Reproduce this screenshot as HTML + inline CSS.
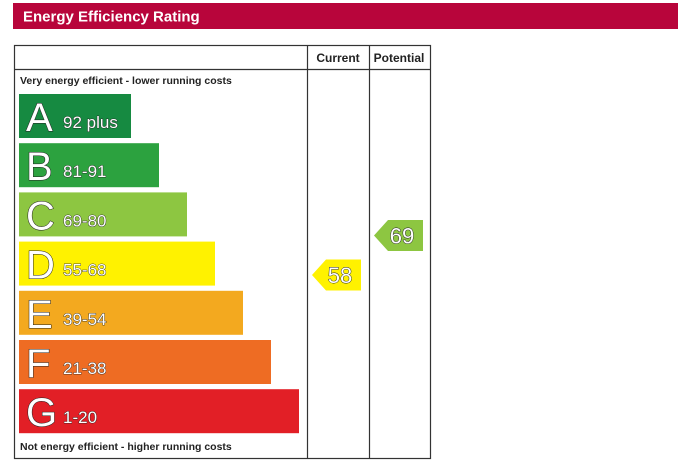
<!DOCTYPE html>
<html><head><meta charset="utf-8"><style>
body{margin:0;width:700px;height:470px;background:#fff;overflow:hidden;font-family:"Liberation Sans",sans-serif}
svg{display:block}
</style></head><body>
<svg width="700" height="470">
<rect x="13" y="3" width="665" height="26" fill="#b8053b"/>
<text x="23" y="21.5" font-size="15" font-weight="bold" fill="#fff">Energy Efficiency Rating</text>
<rect x="14.5" y="45.5" width="416" height="413" fill="none" stroke="#333" stroke-width="1.2"/>
<line x1="14" y1="69.5" x2="431" y2="69.5" stroke="#333" stroke-width="1.2"/>
<line x1="307.5" y1="45" x2="307.5" y2="459" stroke="#333" stroke-width="1.2"/>
<line x1="369.5" y1="45" x2="369.5" y2="459" stroke="#333" stroke-width="1.2"/>
<text x="338" y="62" font-size="12" font-weight="bold" text-anchor="middle" fill="#222">Current</text>
<text x="399" y="62" font-size="12" font-weight="bold" text-anchor="middle" fill="#222">Potential</text>
<text x="20" y="84" font-size="10.5" font-weight="bold" fill="#222">Very energy efficient - lower running costs</text>
<text x="20" y="450" font-size="10.5" font-weight="bold" fill="#222">Not energy efficient - higher running costs</text>
<g id="bands"></g>
<g id="arrows"></g>
</svg>
<script>
const letters=["A","B","C","D","E","F","G"];
const ranges=["92 plus","81-91","69-80","55-68","39-54","21-38","1-20"];
const colors=["#168a41","#2ca23f","#8dc641","#fff200","#f3a91f","#ee6c23","#e21f26"];
const currentValue=58;
const potentialValue=69;
const NS="http://www.w3.org/2000/svg";
const bands=document.getElementById('bands');
function mk(t,a,p){const e=document.createElementNS(NS,t);for(const k in a)e.setAttribute(k,a[k]);p.appendChild(e);return e;}
letters.forEach((L,i)=>{
  const y=94+i*49.2, w=112+i*28;
  const r=mk('rect',{x:19,y:y,width:w,height:44,fill:colors[i]},bands);
  
  
  const t=mk('text',{x:26,y:y+37,'font-size':40,fill:'#fff',stroke:'#222','stroke-width':1,'paint-order':'stroke'},bands);
  t.textContent=L;
  
  
  const t2=mk('text',{x:63,y:y+34,'font-size':17,fill:'#fff',stroke:'#222','stroke-width':0.8,'paint-order':'stroke'},bands);
  t2.textContent=ranges[i];
  
  
});
function yOf(v){return 275-(v-58)*3.59;}
function colorOf(v){const lim=[92,81,69,55,39,21,1];for(let i=0;i<lim.length;i++)if(v>=lim[i])return colors[i];return colors[6];}
const arrows=document.getElementById('arrows');
[[currentValue,312,'current'],[potentialValue,374,'potential']].forEach(([v,x,n])=>{
  const c=yOf(v),h=31;
  const p=mk('polygon',{points:`${x},${c} ${x+14},${c-h/2} ${x+49},${c-h/2} ${x+49},${c+h/2} ${x+14},${c+h/2}`,fill:colorOf(v)},arrows);
  
  
  const t=mk('text',{x:x+28,y:c+8,'font-size':22,'text-anchor':'middle',fill:'#fff',stroke:'#222','stroke-width':0.9,'paint-order':'stroke'},arrows);
  t.textContent=v;
  
  
});
</script>
</body></html>
